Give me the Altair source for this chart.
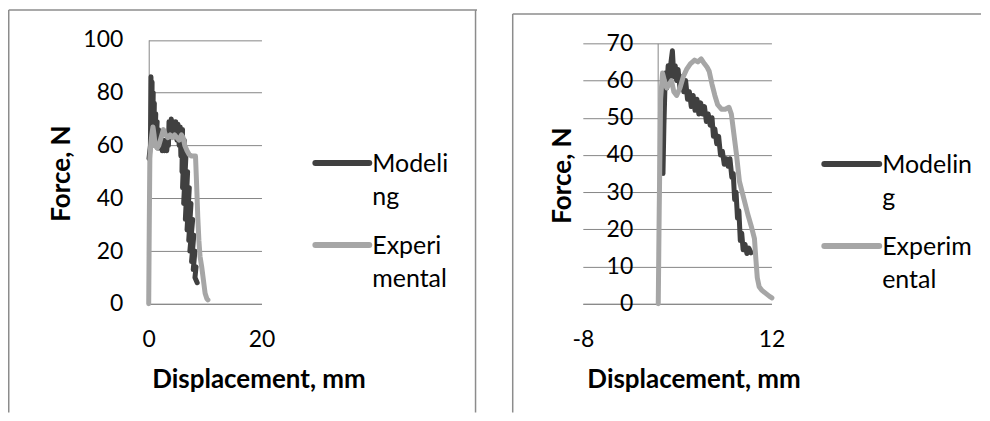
import altair as alt
import pandas as pd

# ---------------- data ----------------
SERIES = ["Modeling", "Experimental"]
COLORS = ["#404040", "#A6A6A6"]

# Left panel (the modeling curve is very noisy: a dense zig-zag band)
L_MOD_X = [0.05, 0.3, 0.4, 0.45, 0.6, 0.55, 0.8, 0.7, 1.0, 0.9, 1.25, 1.1, 1.5, 1.3, 1.75, 1.6, 2.0,
           1.9, 2.2, 2.4, 2.6, 2.8, 3.0, 3.2, 3.4, 3.5, 3.6, 3.8, 4.0, 4.2, 4.4, 4.6, 4.8, 5.0, 5.2,
           5.4, 5.6, 5.7, 6.0, 5.9, 6.3, 6.0, 6.6, 6.2, 6.9, 6.5, 7.2, 6.8, 7.5, 7.1, 7.8, 7.3, 8.0,
           7.6, 8.2, 7.9, 8.4, 8.2, 8.6]
L_MOD_Y = [55, 60, 86, 62, 84, 61, 80, 62, 76, 61, 72, 60, 69, 60, 66, 59, 63,
           59, 62, 58, 62, 58, 62, 58, 63, 60, 69, 64, 70, 65, 69, 64, 69, 62, 68,
           60, 67, 56, 66, 50, 62, 44, 56, 38, 50, 32, 44, 28, 38, 24, 32, 20, 26,
           16, 20, 13, 14, 10, 8]
L_EXP_X = [0, 0.1, 0.2, 0.35, 0.55, 0.75, 0.95, 1.15, 1.5, 1.8, 2.2, 2.6, 3.0, 3.4, 3.8, 4.2, 4.6, 5.0,
           5.4, 5.8, 6.1, 6.4, 6.8, 7.2, 7.6, 8.0, 8.3, 8.5, 8.7, 8.9, 9.1, 9.4, 9.7, 10.0, 10.3, 10.5]
L_EXP_Y = [0, 30, 55, 60, 64, 67, 64, 60, 59, 60, 63, 66, 64, 63, 64, 63, 64, 63,
           62, 64, 63, 60, 58, 56.5, 56, 56, 56, 45, 33, 24, 18, 14, 9, 4, 2, 1.5]
L_X_TICKS = [0, 20]
L_Y_TICKS = [0, 20, 40, 60, 80, 100]
L_LEGEND = [["Modeli", "ng"], ["Experi", "mental"]]

# Right panel
R_MOD_X = [0.5, 0.6, 0.75, 0.9, 1.05, 1.2, 1.35, 1.5, 1.65, 1.8, 1.95, 2.1, 2.3, 2.5, 2.7, 2.9, 3.1, 3.3,
           3.5, 3.7, 3.9, 4.1, 4.3, 4.5, 4.7, 4.9, 5.1, 5.3, 5.5, 5.7, 5.85, 6.0, 6.2, 6.4, 6.6, 6.8,
           7.0, 7.2, 7.4, 7.6, 7.8, 7.95, 8.1, 8.25, 8.4, 8.55, 8.7, 8.85, 9.0, 9.2, 9.4, 9.6, 9.85]
R_MOD_Y = [35, 48, 62, 58, 64, 59, 65, 68, 61, 64, 60, 63, 58, 61, 57, 60, 55, 57,
           53, 56, 52, 55, 51, 54, 51, 53, 49, 51, 48, 50, 45, 47, 43, 45, 40, 41,
           37.5, 39, 37, 39, 34, 35, 28, 30, 23, 25, 17, 19, 14.5, 16, 13.5, 15, 13.7]
R_EXP_X = [0, 0.1, 0.25, 0.45, 0.65, 0.9, 1.15, 1.4, 1.65, 1.95, 2.3, 2.65, 3.0, 3.4, 3.85, 4.2, 4.55,
           4.9, 5.2, 5.4, 5.7, 6.0, 6.3, 6.7, 7.1, 7.5, 7.75, 8.0, 8.3, 8.6, 9.1, 9.5, 9.9, 10.2,
           10.35, 10.5, 10.7, 11.0, 11.4, 11.8, 12.05]
R_EXP_Y = [0, 25, 55, 62, 60, 58, 59, 60, 57, 56, 58, 61, 63, 64.5, 65.5, 65, 65.8,
           64.5, 63.5, 62.5, 59, 56, 53.5, 52.3, 52.3, 52.8, 51, 46, 40, 33, 28, 24, 20.5, 17.5,
           12, 7, 4.6, 3.6, 2.8, 2.0, 1.6]
R_X_TICKS = [-8, 12]
R_Y_TICKS = [0, 10, 20, 30, 40, 50, 60, 70]
R_LEGEND = [["Modelin", "g"], ["Experim", "ental"]]

# ---------------- styling ----------------
FONT = "Lato"
GRID = "#868686"
BORDER = "#8C8C8C"
W, H = 470, 405
LABEL_FS = 23
TITLE_FS = 26
LEGEND_FS = 25


def series_df(xs, ys, name):
    return pd.DataFrame({"x": xs, "y": ys, "series": name, "i": list(range(len(xs)))})


def panel(mod, exp, xdom, xrng, ydom, yrng, xticks, yticks, yaxis_px, ylabpad,
          ytitle_x, ytitle_y, xtitle_x, leg_x0, leg_x1, leg_ys, leg_labels, border):
    xs = alt.Scale(domain=xdom, range=xrng, nice=False, zero=False)
    ys = alt.Scale(domain=ydom, range=yrng, nice=False, zero=False)
    cs = alt.Scale(domain=SERIES, range=COLORS)
    x_axis_y = yrng[0]
    xax = alt.Axis(values=xticks, grid=False, ticks=False, offset=-(H - x_axis_y),
                   labelPadding=25, labelFontSize=LABEL_FS, labelFont=FONT, labelColor="black",
                   labelExpr="datum.value < 0 ? '-' + abs(datum.value) : datum.label",
                   domainColor=GRID, title="Displacement, mm", titleFont=FONT,
                   titleFontSize=TITLE_FS, titleFontWeight="bold", titleColor="black",
                   titleX=xtitle_x, titleY=76, titleAlign="center", titleBaseline="middle",
                   labelFlush=False, labelOverlap=False)
    yax = alt.Axis(values=yticks, grid=True, gridColor=GRID, gridOpacity=1, ticks=False,
                   offset=-yaxis_px,
                   labelPadding=ylabpad, labelFontSize=LABEL_FS, labelFont=FONT,
                   labelColor="black", domainColor=GRID, title="Force, N", titleFont=FONT,
                   titleFontSize=TITLE_FS, titleFontWeight="bold", titleColor="black",
                   titleX=ytitle_x - yaxis_px, titleY=ytitle_y, titleAlign="center",
                   titleBaseline="middle", titleAngle=270, labelFlush=False, labelOverlap=False)

    def line_layer(df):
        return alt.Chart(df).mark_line(strokeWidth=5, strokeJoin="round", strokeCap="round").encode(
            x=alt.X("x:Q", scale=xs, axis=xax),
            y=alt.Y("y:Q", scale=ys, axis=yax),
            color=alt.Color("series:N", scale=cs, legend=None),
            order=alt.Order("i:Q"),
        )

    layers = [line_layer(mod), line_layer(exp)]

    # legend (line swatch + wrapped label)
    for k, name in enumerate(SERIES):
        ly = leg_ys[k]
        layers.append(
            alt.Chart(pd.DataFrame({"s": [name]})).mark_rule(
                color=COLORS[k], strokeWidth=6, strokeCap="round").encode(
                x=alt.value(leg_x0), x2=alt.value(leg_x1), y=alt.value(ly))
        )
        layers.append(
            alt.Chart(pd.DataFrame({"s": [name]})).mark_text(
                text=leg_labels[k], font=FONT, fontSize=LEGEND_FS, color="black",
                align="left", baseline="alphabetic", lineHeight=33).encode(
                x=alt.value(leg_x1 + 3), y=alt.value(ly + 9))
        )

    # panel frame (left, top, optional right)
    bx0, by0, right = border
    frame = pd.DataFrame({"s": [0]})
    layers.append(alt.Chart(frame).mark_rule(color=BORDER, strokeWidth=1.5).encode(
        x=alt.value(bx0), y=alt.value(by0), y2=alt.value(H)))
    layers.append(alt.Chart(frame).mark_rule(color=BORDER, strokeWidth=1.5).encode(
        x=alt.value(bx0), x2=alt.value(W), y=alt.value(by0)))
    if right:
        layers.append(alt.Chart(frame).mark_rule(color=BORDER, strokeWidth=1.5).encode(
            x=alt.value(W - 1.5), y=alt.value(by0), y2=alt.value(H)))
    return alt.layer(*layers).properties(width=W, height=H)


left = panel(series_df(L_MOD_X, L_MOD_Y, "Modeling"), series_df(L_EXP_X, L_EXP_Y, "Experimental"),
             [0, 20], [141, 254], [0, 100], [296, 31.5], L_X_TICKS, L_Y_TICKS, 141, 26,
             54, 165, 251, 308, 362, [155, 237], L_LEGEND, (0.75, 1.5, True))
right = panel(series_df(R_MOD_X, R_MOD_Y, "Modeling"), series_df(R_EXP_X, R_EXP_Y, "Experimental"),
              [-8, 12], [71, 260], [0, 70], [296, 35], R_X_TICKS, R_Y_TICKS, 146, 25,
              51, 167, 182, 313, 368, [156, 238], R_LEGEND, (0.75, 5.5, False))

chart = alt.hconcat(left, right, spacing=34).properties(padding=0).configure(
    font=FONT).configure_view(stroke="transparent", strokeWidth=0)

chart.save("out.html", embed_options={"renderer": "svg", "actions": False})
